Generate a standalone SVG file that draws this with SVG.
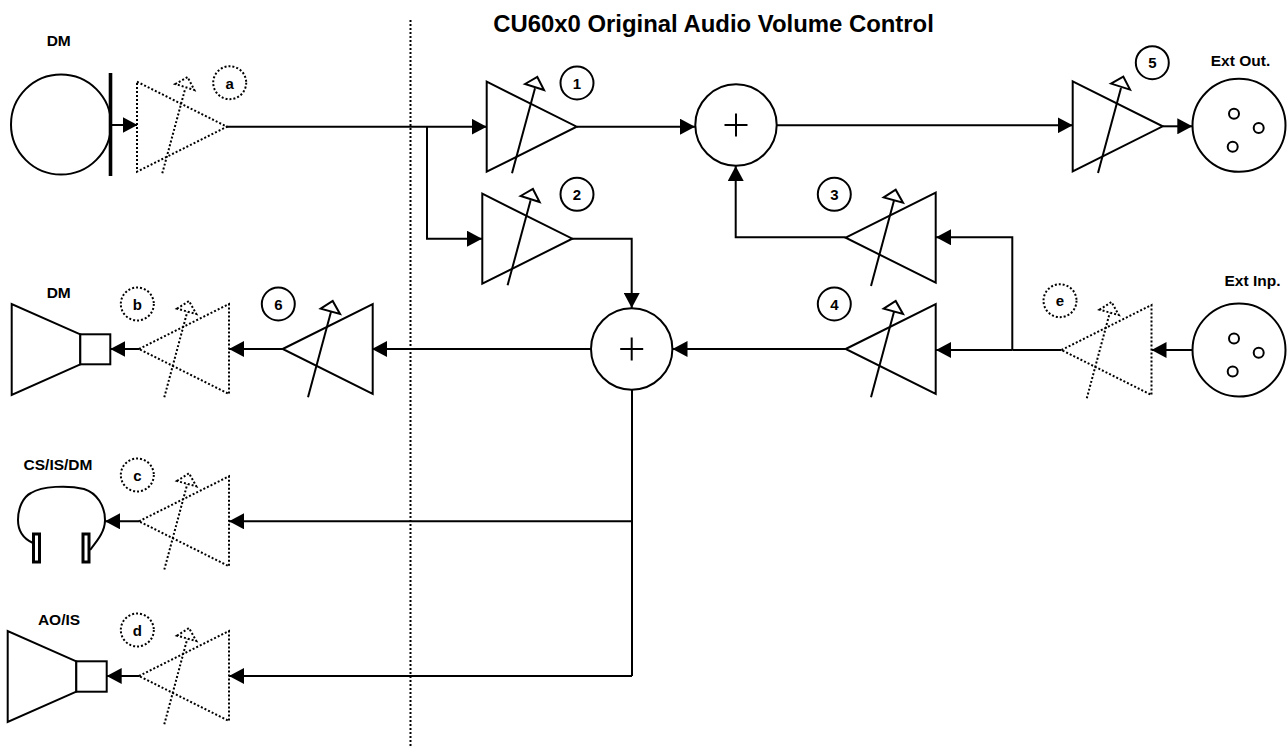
<svg xmlns="http://www.w3.org/2000/svg" xmlns:xlink="http://www.w3.org/1999/xlink" width="1288" height="748" viewBox="0 0 1288 748">
<style>
text{font-family:"Liberation Sans",Arial,sans-serif;font-weight:700;fill:#000;text-anchor:middle}
.lbl{font-size:15.5px}
.idx{font-size:15px}
.title{font-size:23.9px}
.s{fill:#fff;stroke:#000;stroke-width:2}
.ear{fill:#fff;stroke:#000;stroke-width:3}
.o{fill:none;stroke:#000;stroke-width:2}
.d{fill:#fff;stroke:#000;stroke-width:2;stroke-dasharray:2 2}
.dn{fill:none;stroke:#000;stroke-width:2;stroke-dasharray:2 2}
.w{fill:none;stroke:#000;stroke-width:2;marker-end:url(#ah)}
.l{fill:none;stroke:#000;stroke-width:2}
</style>
<defs>
<marker id="ah" markerUnits="userSpaceOnUse" markerWidth="16" markerHeight="16" refX="15" refY="8" orient="auto"><path d="M0 0L15 8L0 16Z" fill="#000"/></marker>
<g id="ampR"><path d="M0 -45L90 0L0 45Z"/><path d="M25.3 46.6L48.3 -38.4" fill="none"/><path d="M38.3 -42.7L50.6 -49.7L57.3 -36.7Z"/></g>
<g id="ampL"><path d="M0 0L90 -45L90 45Z"/><path d="M25.3 48.3L48.3 -37.3" fill="none"/><path d="M38 -40.3L50 -48L57.3 -35Z"/></g>
<g id="xlr"><circle r="46.5" cx="0" cy="0"/><circle cx="-5" cy="-11.5" r="5"/><circle cx="19.7" cy="2.7" r="5"/><circle cx="-6.3" cy="21.4" r="5"/></g>
<g id="sum"><circle r="40.7"/><path d="M-11.5 0H11.5M0 -11.5V11.5" fill="none"/></g>
</defs>

<text class="title" x="713.5" y="32">CU60x0 Original Audio Volume Control</text>
<path class="dn" d="M410.5 20V748"/>

<g id="connectors">
<path class="l" d="M226 126.7H427"/>
<path class="w" d="M427 126.7H486.7"/>
<path class="w" d="M427 126.7V238.7H482"/>
<path class="w" d="M577 126.7H695"/>
<path class="w" d="M776.7 125.3H1072.7"/>
<path class="w" d="M1162.7 126.3H1192.3"/>
<path class="w" d="M110.5 125H137.5"/>
<path class="w" d="M1192.3 350H1151.5"/>
<path class="l" d="M1061.5 350H1012.3"/>
<path class="w" d="M1012.3 350H936"/>
<path class="w" d="M1012.3 350V237.3H936"/>
<path class="w" d="M845.7 237.3H735.7V166"/>
<path class="w" d="M572 238.7H631.7V308"/>
<path class="w" d="M845.7 349H672.5"/>
<path class="w" d="M591 349H372"/>
<path class="w" d="M282.7 349H229"/>
<path class="w" d="M139 349H110.3"/>
<path class="l" d="M632 389.7V676"/>
<path class="w" d="M632 521.3H229"/>
<path class="w" d="M632 676H229"/>
<path class="w" d="M139 521.3H105"/>
<path class="w" d="M139 676H106.7"/>
</g>

<g id="mic"><circle class="s" cx="61" cy="124.5" r="50"/><rect x="108.7" y="73" width="3.6" height="103" fill="#000"/><text class="lbl" x="58.7" y="46">DM</text></g>

<g id="amp-a" class="d"><use xlink:href="#ampR" x="137" y="126.7"/></g>
<g id="amp-1" class="s"><use xlink:href="#ampR" x="486.7" y="126.7"/></g>
<g id="amp-2" class="s"><use xlink:href="#ampR" x="482.3" y="238.7"/></g>
<g id="amp-5" class="s"><use xlink:href="#ampR" x="1072.7" y="126.3"/></g>
<g id="amp-3" class="s"><use xlink:href="#ampL" x="845.7" y="237.7"/></g>
<g id="amp-4" class="s"><use xlink:href="#ampL" x="845.7" y="349"/></g>
<g id="amp-6" class="s"><use xlink:href="#ampL" x="282.7" y="349"/></g>
<g id="amp-b" class="d"><use xlink:href="#ampL" x="139" y="349"/></g>
<g id="amp-c" class="d"><use xlink:href="#ampL" x="139" y="521.3"/></g>
<g id="amp-d" class="d"><use xlink:href="#ampL" x="139" y="676"/></g>
<g id="amp-e" class="d"><use xlink:href="#ampL" x="1061.5" y="350"/></g>

<g id="sum-top" class="s"><use xlink:href="#sum" x="736" y="125"/></g>
<g id="sum-bottom" class="s"><use xlink:href="#sum" x="631.7" y="349"/></g>

<g id="ext-out" class="s"><use xlink:href="#xlr" x="1239" y="125.3"/><text class="lbl" x="1240.5" y="66" stroke="none">Ext Out.</text></g>
<g id="ext-inp" class="s"><use xlink:href="#xlr" x="1239" y="350"/><text class="lbl" x="1252.5" y="286" stroke="none">Ext Inp.</text></g>

<g id="spk-b" class="s"><path d="M80.3 334.3L11.7 304V395L80.3 364.3Z"/><rect x="80.3" y="334.3" width="30" height="30"/><text class="lbl" x="58.7" y="298.3" stroke="none">DM</text></g>
<g id="spk-d" class="s"><path d="M76.3 661.3L7.7 631V722L76.3 691.7Z"/><rect x="76.3" y="661.3" width="30.4" height="30.4"/><text class="lbl" x="59" y="625" stroke="none">AO/IS</text></g>
<g id="headset"><path class="o" d="M33 543C24 539 18 531 18 520C18 508 23 497 31 493C42 486 68 485 84 489C97 493 105 506 105 520C105 532 97 541 90 550"/><rect class="ear" x="33.5" y="534" width="6" height="28"/><rect class="ear" x="83" y="534" width="6" height="28"/><text class="lbl" x="58" y="470">CS/IS/DM</text></g>

<g id="tag-1"><circle class="s" cx="577" cy="83" r="16.5"/><text class="idx" x="577" y="89">1</text></g>
<g id="tag-2"><circle class="s" cx="577" cy="194.3" r="16.5"/><text class="idx" x="577" y="200">2</text></g>
<g id="tag-3"><circle class="s" cx="834.3" cy="194.3" r="16.5"/><text class="idx" x="834.3" y="200">3</text></g>
<g id="tag-4"><circle class="s" cx="834.3" cy="304" r="16.5"/><text class="idx" x="834.3" y="309.5">4</text></g>
<g id="tag-5"><circle class="s" cx="1152.3" cy="62.7" r="16.5"/><text class="idx" x="1152.3" y="68">5</text></g>
<g id="tag-6"><circle class="s" cx="278.3" cy="304" r="16.5"/><text class="idx" x="278.3" y="310">6</text></g>
<g id="tag-a"><circle class="d" cx="229.7" cy="82.7" r="16.5"/><text class="idx" x="229.7" y="89">a</text></g>
<g id="tag-b"><circle class="d" cx="137.3" cy="304" r="16.5"/><text class="idx" x="137.3" y="310">b</text></g>
<g id="tag-c"><circle class="d" cx="137.3" cy="475" r="16.5"/><text class="idx" x="137.3" y="481">c</text></g>
<g id="tag-d"><circle class="d" cx="137.3" cy="630" r="16.5"/><text class="idx" x="137.3" y="636">d</text></g>
<g id="tag-e"><circle class="d" cx="1060" cy="300.7" r="16.5"/><text class="idx" x="1060" y="306">e</text></g>
</svg>
